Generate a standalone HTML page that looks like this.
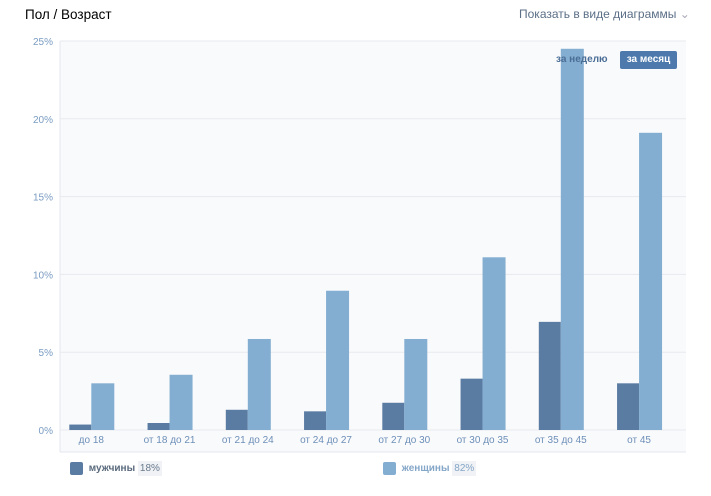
<!DOCTYPE html>
<html><head><meta charset="utf-8"><style>
body{margin:0;width:711px;height:496px;background:#fff;font-family:"Liberation Sans",sans-serif;position:relative;overflow:hidden}
.abs{position:absolute}
</style></head><body>
<div class="abs" style="left:25px;top:7px;font-size:13.5px;color:#000">Пол / Возраст</div>
<div class="abs" style="left:519px;top:7px;font-size:12px;color:#5b6f87">Показать в виде диаграммы <span style="color:#aab">&#8964;</span></div>
<svg class="abs" style="left:0;top:0" width="711" height="496" id="chart"></svg>
<div class="abs" style="left:556px;top:54px;font-size:10px;font-weight:bold;color:#4a6d96">за неделю</div>
<div class="abs" style="left:620px;top:51px;width:57px;height:18px;background:#4d79ad;border-radius:2px;color:#fff;font-size:10px;font-weight:bold;text-align:center;line-height:18px">за месяц</div>
<div class="abs" style="left:70px;top:462px;font-size:10px;color:#555;line-height:14px"><span style="display:inline-block;width:13px;height:13px;background:#5a7ca3;border-radius:2px;vertical-align:top"></span> <span style="margin-left:3px;font-weight:bold;color:#5a6a7d">мужчины</span> <span style="background:#f0f2f5;padding:2px 2px;color:#6a7a8d">18%</span></div>
<div class="abs" style="left:383px;top:462px;font-size:10px;line-height:14px"><span style="display:inline-block;width:13px;height:13px;background:#84aed1;border-radius:2px;vertical-align:top"></span> <span style="margin-left:3px;font-weight:bold;color:#84a6c8">женщины</span> <span style="background:#f0f2f5;padding:2px 2px;color:#84a6c8">82%</span></div>
<script>
const categories=["до 18","от 18 до 21","от 21 до 24","от 24 до 27","от 27 до 30","от 30 до 35","от 35 до 45","от 45"];
const men=[0.35,0.45,1.3,1.2,1.75,3.3,6.95,3.0];
const women=[3.0,3.55,5.85,8.95,5.85,11.1,24.5,19.1];
const ticks=[0,5,10,15,20,25];
const NS="http://www.w3.org/2000/svg";
const svg=document.getElementById('chart');
const X0=60,X1=686,Y0=430,Y25=41;
const y=v=>Y0-(Y0-Y25)*v/25;
const step=(X1-X0)/categories.length;
const cx=i=>X0+step*(i+0.4);
function el(t,a){const e=document.createElementNS(NS,t);for(const k in a)e.setAttribute(k,a[k]);svg.appendChild(e);return e;}
const bg=el('rect',{x:X0,y:Y25,width:X1-X0,height:452-Y25,fill:'#f9fafc'});


const ax=el('line',{x1:X0,y1:Y25,x2:X0,y2:452,stroke:'#e3e7ec'});


const bx=el('line',{x1:X0,y1:452,x2:X1,y2:452,stroke:'#e3e7ec'});


ticks.forEach(t=>{
 const g=el('line',{x1:X0,y1:y(t),x2:X1,y2:y(t),stroke:'#e7e9ee'});
 
 
 const l=el('text',{x:53,y:y(t)+4,'text-anchor':'end','font-size':10,fill:'#7a9cc2','font-family':'Liberation Sans'});
 l.textContent=t+'%';
 
 
});
categories.forEach((c,i)=>{
 const m=el('rect',{x:cx(i)-22,y:y(men[i]),width:22,height:Y0-y(men[i]),fill:'#5a7ca3'});
 
 
 const w=el('rect',{x:cx(i),y:y(women[i]),width:23,height:Y0-y(women[i]),fill:'#84aed1'});
 
 
 const t=el('text',{x:cx(i),y:443,'text-anchor':'middle','font-size':10,fill:'#6d8fb8','font-family':'Liberation Sans'});
 t.textContent=c;
 
 
});
</script>
</body></html>
